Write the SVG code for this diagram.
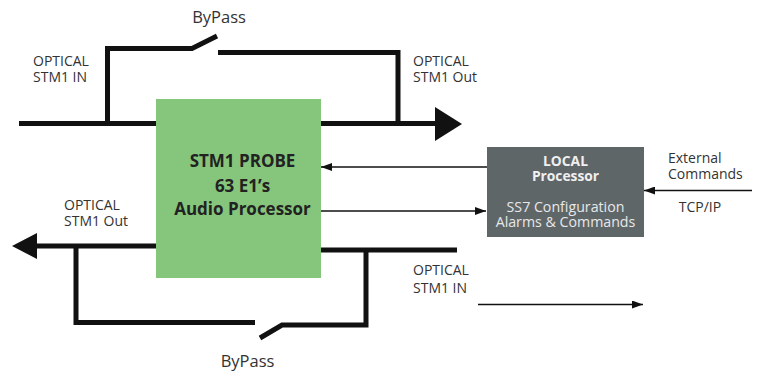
<svg xmlns="http://www.w3.org/2000/svg" width="759" height="372" viewBox="0 0 759 372">
<style>
.thick{stroke:#111;stroke-width:5;fill:none;stroke-linecap:butt;stroke-linejoin:miter}
.thin{stroke:#111;stroke-width:1.6;fill:none}
.lbl{font-family:"Open Sans","Liberation Sans",sans-serif;font-size:14px;fill:#333}
.big{font-family:"Open Sans","Liberation Sans",sans-serif;font-size:16.5px;fill:#333}
.bold{font-family:"Open Sans","Liberation Sans",sans-serif;font-size:17px;font-weight:bold;fill:#222}
.wb{font-family:"Open Sans","Liberation Sans",sans-serif;font-size:13.8px;font-weight:bold;fill:#f0f0f0}
.w{font-family:"Open Sans","Liberation Sans",sans-serif;font-size:14.2px;fill:#e8e8e8}
</style>
<defs>
<marker id="ah" viewBox="0 0 11 8" refX="11" refY="4" markerWidth="11" markerHeight="8" markerUnits="userSpaceOnUse" orient="auto">
<path d="M0,0 L11,4 L0,8 Z" fill="#111"/>
</marker>
</defs>
<g id="connectors">
<path class="thick" d="M19,123.5 H436"/>
<polygon points="435,107 462,124 435,141" fill="#111"/>
<path class="thick" d="M107.5,123.5 V48.5 H192 L217,36"/>
<path class="thick" d="M218,52.5 H398 V123.5"/>
<path class="thick" d="M457,250 H321"/>
<path class="thick" d="M156,246 H36"/>
<polygon points="37,233 12,246 37,259" fill="#111"/>
<path class="thick" d="M76,246 V322.5 H255"/>
<path class="thick" d="M260,338 L282,325 H366 V250"/>
<path class="thin" d="M487,167 H321" marker-end="url(#ah)"/>
<path class="thin" d="M321,211 H486" marker-end="url(#ah)"/>
<path class="thin" d="M752,190.5 H644" marker-end="url(#ah)"/>
<path class="thin" d="M478,304.5 H643" marker-end="url(#ah)"/>
</g>
<g id="probe">
<rect x="156" y="99" width="165" height="179" fill="#86c67c"/>
<text class="bold" text-anchor="middle"><tspan x="242.5" y="167.3">STM1 PROBE</tspan><tspan x="242.5" y="191.7">63 E1’s</tspan><tspan x="242.5" y="215">Audio Processor</tspan></text>
</g>
<g id="local">
<rect x="487" y="147" width="157" height="90" fill="#5f6668"/>
<text class="wb" text-anchor="middle"><tspan x="565.5" y="165.5">LOCAL</tspan><tspan x="565.5" y="181">Processor</tspan></text>
<text class="w" text-anchor="middle"><tspan x="565.5" y="212">SS7 Configuration</tspan><tspan x="565.5" y="227.3">Alarms &amp; Commands</tspan></text>
</g>
<g id="labels">
<text class="big" x="219" y="22.7" text-anchor="middle">ByPass</text>
<text class="big" x="247.5" y="366.8" text-anchor="middle">ByPass</text>
<text class="lbl"><tspan x="33" y="65.7">OPTICAL</tspan><tspan x="33" y="81.7">STM1 IN</tspan></text>
<text class="lbl"><tspan x="413" y="65.7">OPTICAL</tspan><tspan x="413" y="81.7">STM1 Out</tspan></text>
<text class="lbl"><tspan x="64" y="210">OPTICAL</tspan><tspan x="64" y="226">STM1 Out</tspan></text>
<text class="lbl"><tspan x="413" y="275">OPTICAL</tspan><tspan x="413" y="292.5">STM1 IN</tspan></text>
<text class="lbl"><tspan x="668" y="163.3">External</tspan><tspan x="668" y="179">Commands</tspan></text>
<text class="lbl" x="700" y="211.7" text-anchor="middle">TCP/IP</text>
</g>
</svg>
